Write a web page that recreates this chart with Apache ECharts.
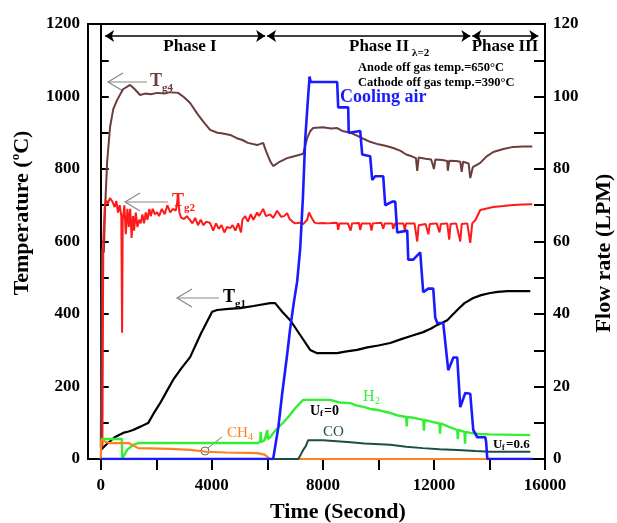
<!DOCTYPE html>
<html>
<head>
<meta charset="utf-8">
<style>
  html, body { margin: 0; padding: 0; background: #fff; }
  #chart { width: 617px; height: 523px; }
</style>
<script src="https://cdn.jsdelivr.net/npm/echarts@6/dist/echarts.min.js"></script>
</head>
<body>
<div id="chart"></div>
<script>
// Time (s) vs temperature (°C) — gas temperatures Tg1, Tg2, Tg4
const tg4 = [[0,30],[40,580],[110,570],[160,700],[230,820],[335,916],[450,965],[587,990],[800,1020],[1056,1032],[1200,1022],[1416,1004],[1600,1008],[1800,1006],[2029,1010],[2300,1008],[2500,1012],[2786,1010],[3000,998],[3218,982],[3500,950],[3700,930],[3939,908],[4200,900],[4400,898],[4659,894],[4900,885],[5100,880],[5300,872],[5632,866],[5848,872],[5950,850],[6100,822],[6209,808],[6400,818],[6713,830],[6900,834],[7100,838],[7290,842],[7434,885],[7550,905],[7650,913],[8000,915],[8300,912],[8515,913],[8700,905],[9000,900],[9344,888],[9500,882],[9700,875],[10000,868],[10250,864],[10533,858],[10800,850],[11000,840],[11200,835],[11350,830],[11398,795],[11450,832],[11700,828],[11900,826],[12000,800],[12050,826],[12300,825],[12479,822],[12500,795],[12550,823],[12800,822],[12948,820],[13000,792],[13050,820],[13250,815],[13308,775],[13400,805],[13669,817],[13900,835],[14137,847],[14500,855],[14858,861],[15200,862],[15542,862]];

const tg2 = [[0,20],[60,40],[90,600],[140,690],[190,714],[260,705],[330,720],[420,710],[500,695],[560,712],[620,680],[680,700],[740,670],[768,348],[790,660],[850,700],[900,620],[960,690],[1010,640],[1060,690],[1110,610],[1160,670],[1200,630],[1260,680],[1320,640],[1380,660],[1440,650],[1500,675],[1560,650],[1620,680],[1680,660],[1750,690],[1800,670],[1870,690],[1950,675],[2029,681],[2100,670],[2200,690],[2300,675],[2400,700],[2500,680],[2600,690],[2700,685],[2786,720],[2830,680],[2900,665],[3000,662],[3100,670],[3218,659],[3300,650],[3400,665],[3500,645],[3600,660],[3700,645],[3800,655],[3939,651],[4050,630],[4150,650],[4250,635],[4350,645],[4450,625],[4550,640],[4659,637],[4750,645],[4850,630],[4950,650],[5050,625],[5100,660],[5200,670],[5300,655],[5400,675],[5500,660],[5632,680],[5700,670],[5848,690],[5950,670],[6100,675],[6209,665],[6350,685],[6500,668],[6600,670],[6713,678],[6800,662],[6900,655],[7000,650],[7150,652],[7290,648],[7434,660],[7500,680],[7600,665],[7700,652],[7800,650],[8000,651],[8200,650],[8400,652],[8515,651],[8550,632],[8600,650],[8900,650],[9000,630],[9050,650],[9300,651],[9344,632],[9400,650],[9700,650],[9750,630],[9800,650],[10100,652],[10173,635],[10230,650],[10500,650],[10533,635],[10600,650],[10900,650],[10950,632],[11000,650],[11300,650],[11398,600],[11450,645],[11700,648],[11800,620],[11850,648],[12100,650],[12200,625],[12250,648],[12479,650],[12550,605],[12600,648],[12800,650],[12948,600],[13000,648],[13200,650],[13308,596],[13380,650],[13500,660],[13669,687],[14137,695],[14500,698],[14858,701],[15200,702],[15542,703]];

const tg1 = [[0,25],[200,40],[500,60],[804,72],[1000,76],[1164,80],[1450,90],[1705,99],[1900,125],[2137,154],[2400,190],[2605,218],[2900,250],[3218,281],[3600,345],[4011,406],[4191,411],[4600,414],[5020,416],[5500,422],[6101,430],[6281,430],[6550,405],[6822,383],[7200,340],[7542,301],[7795,292],[8200,292],[8515,292],[8800,296],[9236,301],[9600,308],[10000,313],[10425,320],[10800,330],[11200,340],[11614,350],[11900,360],[12119,370],[12300,376],[12479,383],[12839,411],[13100,430],[13416,444],[13700,452],[14029,458],[14300,461],[14641,463],[15000,463],[15470,463]];

// Flow rates (LPM)
const coolingAir = [[0,0],[6209,0],[6400,9],[6533,18],[6700,28],[6822,36],[6950,43],[7074,49],[7182,58],[7280,72],[7362,88],[7450,98],[7520,105.5],[7560,104],[8000,104],[8515,104],[8551,97],[8912,97],[8930,90],[9344,90.5],[9416,84],[9704,83.5],[9776,77],[9884,78],[10173,78],[10245,70],[10497,71],[10605,71],[10677,62.5],[11038,63],[11074,55],[11254,55],[11506,57],[11614,46],[11794,47],[11975,47],[12047,39],[12119,37.5],[12335,37.5],[12515,24.5],[12700,28],[12839,28],[12948,14.3],[13128,18.2],[13308,18],[13416,8],[13560,6],[13849,6],[13880,4.7],[13921,0],[15542,0]];

const h2 = [[0,5.5],[760,5.5],[768,0],[948,2.5],[1150,3.8],[1344,4.4],[3000,4.4],[5632,4.4],[5740,4.7],[5760,7.5],[5780,4.7],[5900,5.2],[6000,8],[6020,5.5],[6101,6],[6300,8],[6569,10],[6800,12],[7000,14],[7290,16.3],[8263,16.3],[8400,16],[8600,15.6],[8984,15.4],[9200,14.8],[9500,14.3],[9700,13.8],[10000,13.5],[10425,12.7],[10700,12],[11000,11.6],[11020,9],[11040,11.6],[11300,11.3],[11614,10.8],[11640,7.8],[11660,10.8],[11900,10.3],[12200,9.8],[12220,7],[12240,9.8],[12500,9],[12839,8],[12860,5.5],[12880,8],[13100,7.5],[13120,4.2],[13140,7.5],[13308,7.2],[13600,6.9],[14000,6.8],[15470,6.6]];

const ch4 = [[0,0],[20,5.2],[300,4.4],[1000,4.4],[1344,3],[2500,2.8],[3218,2.5],[3800,2],[4500,1.8],[5632,1.6],[5900,1.2],[6101,0],[15542,0]];

const co = [[0,0],[7113,0],[7200,1.2],[7290,2.5],[7380,3.5],[7470,5.2],[8010,5.2],[8500,4.9],[9000,4.6],[9500,4.3],[10425,3.9],[11000,3.4],[11600,3],[12200,2.7],[12839,2.5],[13500,2.2],[14029,2],[15470,2]];

// Axis ticks and labels
const timeLabels = [0, 4000, 8000, 12000, 16000];
const timeTicks = [0, 2000, 4000, 6000, 8000, 10000, 12000, 14000, 16000];

// Operating phases along the top (time span in seconds)
const phases = [
  { name: 'Phase I', from: 155, to: 5920 },
  { name: 'Phase II', from: 5990, to: 13310 },
  { name: 'Phase III', from: 13380, to: 15760 }
];
const phaseArrowTemp = 1167;

const SERIF = '"Liberation Serif", "Times New Roman", serif';
const chart = echarts.init(document.getElementById('chart'), null, { renderer: 'canvas' });

const tickLabel = { color: '#000', fontFamily: SERIF, fontWeight: 'bold', fontSize: 17, formatter: v => String(v) };

function line(name, data, color, yIdx, width, extra) {
  return Object.assign({
    name, type: 'line', data, yAxisIndex: yIdx, showSymbol: false, symbol: 'none',
    lineStyle: { color, width }, itemStyle: { color }, silent: true, animation: false
  }, extra || {});
}

const phaseMarks = {
  silent: true, symbol: ['arrow', 'arrow'], symbolSize: 9, animation: false,
  label: { show: false },
  lineStyle: { color: '#000', width: 1.5, type: 'solid' },
  data: phases.map(p => [{ coord: [p.from, phaseArrowTemp] }, { coord: [p.to, phaseArrowTemp] }])
};

function arrow(x1, x2, y, color) {
  // open arrow pointing left toward the curve
  return [
    { type: 'line', shape: { x1: x1, y1: y, x2: x2, y2: y }, style: { stroke: color, lineWidth: 1.2 }, silent: true },
    { type: 'polyline', shape: { points: [[x2 + 15, y - 9], [x2, y], [x2 + 15, y + 9]] }, style: { stroke: color, lineWidth: 1.2, fill: null }, silent: true }
  ];
}
function txt(x, y, text, size, color, weight, align) {
  return { type: 'text', x, y, silent: true,
    style: { text, font: (weight || 'normal') + ' ' + size + 'px ' + SERIF, fill: color, textAlign: align || 'left', textVerticalAlign: 'middle' } };
}

const graphics = [].concat(
  // phase labels
  txt(190, 47, 'Phase I', 17, '#000', 'bold', 'center'),
  txt(379, 47, 'Phase II', 17, '#000', 'bold', 'center'),
  txt(412, 53, 'λ=2', 11, '#000', 'bold'),
  txt(505, 47, 'Phase III', 17, '#000', 'bold', 'center'),
  txt(358, 68, 'Anode off gas temp.=650°C', 12.5, '#000', 'bold'),
  txt(358, 83, 'Cathode off gas temp.=390°C', 12.5, '#000', 'bold'),
  txt(340, 97, 'Cooling air', 18, '#1a1aff', 'bold'),
  // Tg labels with arrows
  arrow(147, 108, 82, '#888'),
  txt(150, 81, 'T', 18, '#6b3d3d', 'bold'),
  txt(162, 88, 'g4', 11, '#6b3d3d', 'bold'),
  arrow(168, 125, 202, '#888'),
  txt(172, 201, 'T', 18, '#ff1a1a', 'bold'),
  txt(184, 208, 'g2', 11, '#ff1a1a', 'bold'),
  arrow(219, 177, 298, '#888'),
  txt(223, 297, 'T', 18, '#000', 'bold'),
  txt(235, 304, 'g1', 11, '#000', 'bold'),
  // gas labels
  { type: 'line', shape: { x1: 222, y1: 437, x2: 208, y2: 448 }, style: { stroke: '#777', lineWidth: 1 }, silent: true },
  { type: 'circle', shape: { cx: 205, cy: 451, r: 4 }, style: { stroke: '#666', lineWidth: 1, fill: null }, silent: true },
  txt(227, 433, 'CH', 15, '#ff8020', 'normal'),
  txt(248, 437, '4', 10, '#ff8020', 'normal'),
  txt(363, 397, 'H', 16, '#33ee33', 'normal'),
  txt(375, 401, '2', 10, '#33ee33', 'normal'),
  txt(323, 432, 'CO', 15, '#1e4d46', 'normal'),
  txt(310, 411, 'U', 14, '#000', 'bold'),
  txt(320, 414, 'f', 9, '#000', 'bold'),
  txt(324, 411, '=0', 14, '#000', 'bold'),
  txt(493, 445, 'U', 13, '#000', 'bold'),
  txt(502, 448, 'f', 8, '#000', 'bold'),
  txt(506, 445, '=0.6', 13, '#000', 'bold'),
  // axis titles
  { type: 'text', x: 22, y: 213, rotation: Math.PI / 2, silent: true,
    style: { text: '{a|Temperature (}{b|o}{a|C)}', textAlign: 'center', textVerticalAlign: 'middle',
      rich: { a: { font: 'bold 22px ' + SERIF, fill: '#000', lineHeight: 26 },
              b: { font: 'bold 13px ' + SERIF, fill: '#000', lineHeight: 13, verticalAlign: 'top' } } } },
  { type: 'text', x: 604, y: 253, rotation: Math.PI / 2, silent: true,
    style: { text: 'Flow rate (LPM)', font: 'bold 22px ' + SERIF, fill: '#000', textAlign: 'center', textVerticalAlign: 'middle' } },
  { type: 'text', x: 338, y: 512, silent: true,
    style: { text: 'Time (Second)', font: 'bold 22px ' + SERIF, fill: '#000', textAlign: 'center', textVerticalAlign: 'middle' } }
);

chart.setOption({
  animation: false,
  backgroundColor: '#fff',
  grid: { left: 88, right: 72, top: 24, bottom: 64, show: true, borderColor: '#000', borderWidth: 2, containLabel: false },
  xAxis: {
    type: 'value', min: -460, max: 16000,
    axisLine: { show: true, onZero: false, lineStyle: { color: '#000', width: 2 } },
    axisTick: { show: true, inside: false, length: 11, lineStyle: { color: '#000', width: 2 }, customValues: timeTicks },
    axisLabel: Object.assign({ margin: 18, customValues: timeLabels }, tickLabel),
    splitLine: { show: false }
  },
  yAxis: [
    {
      type: 'value', min: 0, max: 1200, interval: 200, position: 'left',
      axisLine: { show: true, lineStyle: { color: '#000', width: 2 } },
      axisTick: { show: true, inside: true, length: 8, lineStyle: { color: '#000', width: 2 } },
      minorTick: { show: true, splitNumber: 2, length: 8, lineStyle: { color: '#000', width: 2 } },
      axisLabel: Object.assign({ margin: 8 }, tickLabel),
      splitLine: { show: false }
    },
    {
      type: 'value', min: 0, max: 120, interval: 20, position: 'right',
      axisLine: { show: true, lineStyle: { color: '#000', width: 2 } },
      axisTick: { show: true, inside: true, length: 11, lineStyle: { color: '#000', width: 2 } },
      minorTick: { show: true, splitNumber: 2, length: 11, lineStyle: { color: '#000', width: 2 } },
      axisLabel: Object.assign({ margin: 8 }, tickLabel),
      splitLine: { show: false }
    }
  ],
  series: [
    line('Tg4', tg4, '#6b3d3d', 0, 2),
    line('Tg2', tg2, '#ff1a1a', 0, 2),
    line('Tg1', tg1, '#000000', 0, 2.2, { markLine: phaseMarks }),
    line('H2', h2, '#33ee33', 1, 2.4),
    line('CH4', ch4, '#ff8020', 1, 2.2),
    line('CO', co, '#1e4d46', 1, 2),
    line('Cooling air', coolingAir, '#1a1aff', 1, 2.6)
  ],
  graphic: graphics
});
</script>
</body>
</html>
